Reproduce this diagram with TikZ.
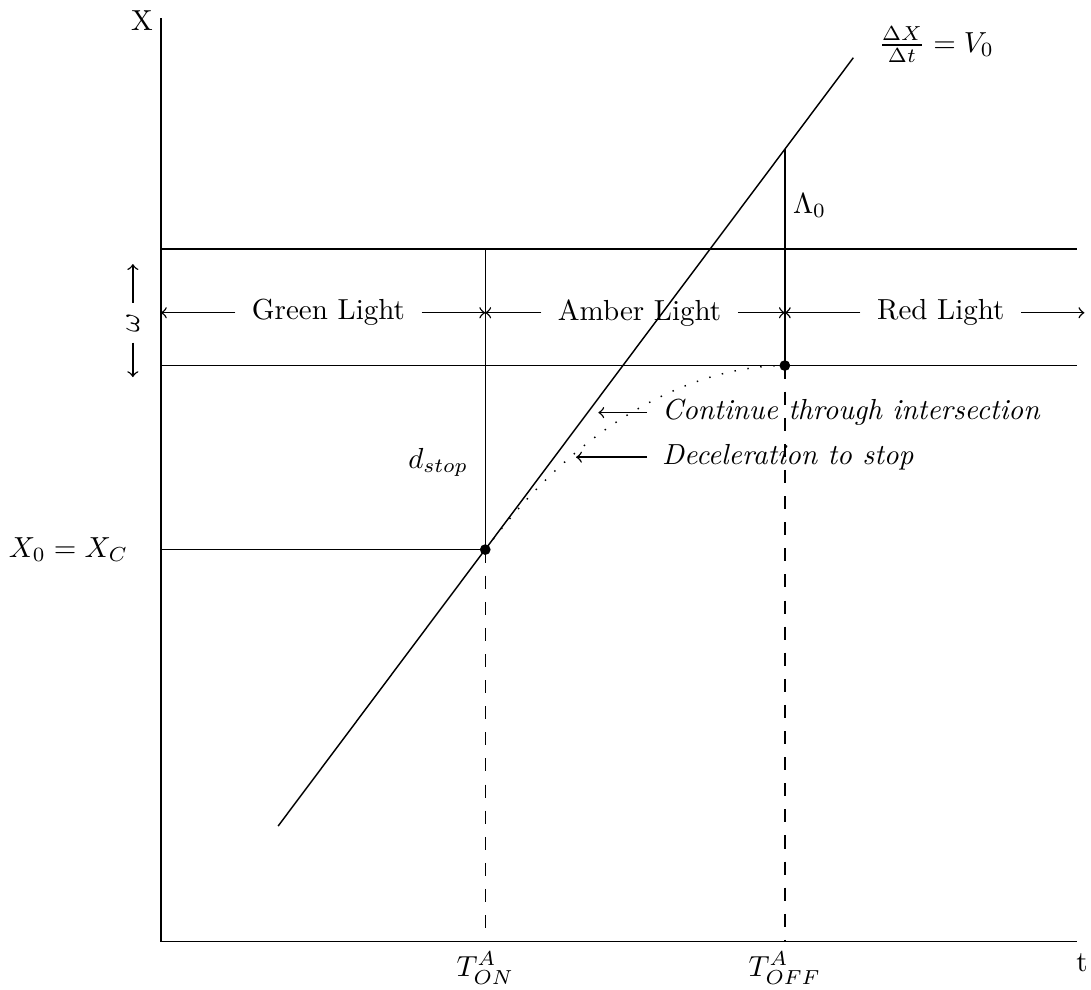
\documentclass[tikz,border=0pt]{standalone}
\begin{document}
\begin{tikzpicture}[
    line width=0.5pt,
    guide/.style={dash pattern=on 4.5pt off 4.5pt},
    spanarrow/.style={->},
    bigdot/.style={circle, fill, inner sep=0pt, minimum size=0.13cm},
    lightlabel/.style={inner xsep=5.5pt}
]
\useasboundingbox (-1.95,-0.58) rectangle (11.27,11.41);

% axes
\coordinate (origin) at (0,0);
\coordinate (xend) at (11.1,0);
\coordinate (yend) at (0,11.19);
\draw (origin) -- (xend);
\draw (origin) -- (yend);
\node (xlabel) at (-0.23,11.16) {X};
\node (tlabel) at (11.16,-0.25) {t};

% band of the intersection
\coordinate (bandtopL) at (0,8.39);
\coordinate (bandtopR) at (11.1,8.39);
\coordinate (bandlowL) at (0,6.98);
\coordinate (bandlowR) at (11.1,6.98);
\draw (bandtopL) -- (bandtopR);
\draw (bandlowL) -- (bandlowR);

% trajectory
\coordinate (trajstart) at (1.42,1.40);
\coordinate (trajend) at (8.39,10.71);
\draw (trajstart) -- (trajend);
\node[anchor=west] (slope) at (8.57,10.87) {$\frac{\Delta X}{\Delta t} = V_0$};

% amber onset
\node[bigdot] (onpt) at (3.93,4.75) {};
\coordinate (ontop) at (3.93,8.39);
\coordinate (onbase) at (3.93,0);
\coordinate (xzero) at (0,4.75);
\draw (ontop) -- (onpt.center);
\draw[guide] (onpt.center) -- (onbase);
\draw (xzero) -- (onpt.center);
\node (xzerolabel) at (-1.12,4.75) {$X_0 = X_C$};
\node (dstop) at (3.36,5.81) {$d_{stop}$};
\node[below] (ton) at (onbase) {$T^A_{ON}$};

% amber end
\node[bigdot] (offpt) at (7.56,6.98) {};
\coordinate (offtop) at (7.56,9.60);
\coordinate (offbase) at (7.56,0);
\draw (offtop) -- (offpt.center);
\draw[guide] (offpt.center) -- (offbase);
\node (lambda) at (7.86,8.92) {$\Lambda_0$};
\node[below] (toff) at (offbase) {$T^A_{OFF}$};

% stopping curve
\draw[loosely dotted] (onpt.center) .. controls (5.2,6.45) and (6.6,6.98) .. (offpt.center);

% light phases
\node[lightlabel] (green) at (2.03,7.62) {Green Light};
\node[lightlabel] (amber) at (5.80,7.62) {Amber Light};
\node[lightlabel] (red) at (9.45,7.62) {Red Light};
\coordinate (greenL) at (0,7.62);
\coordinate (greenR) at (3.93,7.62);
\coordinate (amberL) at (3.93,7.62);
\coordinate (amberR) at (7.56,7.62);
\coordinate (redL) at (7.56,7.62);
\coordinate (redR) at (11.19,7.62);
\draw[spanarrow] (green.west) -- (greenL);
\draw[spanarrow] (green.east) -- (greenR);
\draw[spanarrow] (amber.west) -- (amberL);
\draw[spanarrow] (amber.east) -- (amberR);
\draw[spanarrow] (red.west) -- (redL);
\draw[spanarrow] (red.east) -- (redR);

% band width
\node[rotate=90] (omega) at (-0.34,7.50) {$\omega$};
\coordinate (omtop) at (-0.34,8.21);
\coordinate (ombot) at (-0.34,6.84);
\draw[spanarrow] (omega.east) -- (omtop);
\draw[spanarrow] (omega.west) -- (ombot);

% notes
\node[anchor=west, inner xsep=5pt] (cont) at (5.89,6.41) {\textit{Continue through intersection}};
\node[anchor=west, inner xsep=5pt] (decel) at (5.89,5.87) {\textit{Deceleration to stop}};
\coordinate (conttip) at (5.30,6.41);
\coordinate (deceltip) at (5.03,5.87);
\draw[spanarrow] (cont.west) -- (conttip);
\draw[spanarrow] (decel.west) -- (deceltip);

\end{tikzpicture}
\end{document}
